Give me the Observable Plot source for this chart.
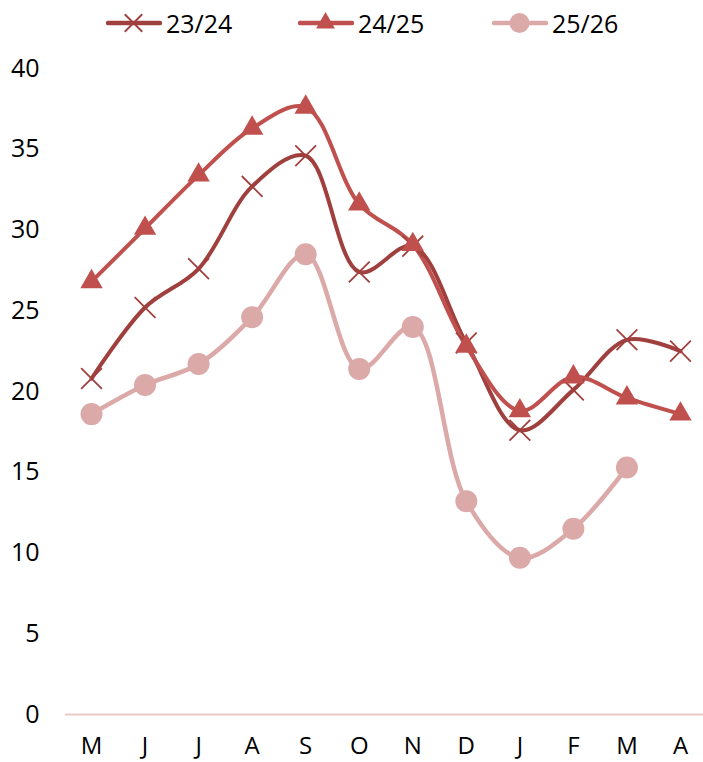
<!DOCTYPE html>
<html>
<head>
<meta charset="utf-8">
<script src="https://cdn.jsdelivr.net/npm/d3@7"></script>
<script src="https://cdn.jsdelivr.net/npm/@observablehq/plot@0.6"></script>
<style>
  html, body { margin: 0; padding: 0; background: #fff; }
  body { width: 703px; height: 762px; overflow: hidden; font-family: "Open Sans", sans-serif; }
  #legend { position: relative; height: 45px; }
  #legend .item { position: absolute; top: 8px; height: 30px; display: flex; align-items: center; font-size: 25px; line-height: 30px; color: #000; }
  #legend svg { display: block; margin-right: 4px; }
</style>
</head>
<body>
<div id="legend"></div>
<div id="chart"></div>
<script>
const months = ["M", "J", "J", "A", "S", "O", "N", "D", "J", "F", "M", "A"];
const seriesNames = ["23/24", "24/25", "25/26"];
const values2324 = [20.8, 25.2, 27.6, 32.7, 34.6, 27.4, 29.0, 23.0, 17.6, 20.1, 23.2, 22.5];
const values2425 = [26.8, 30.1, 33.4, 36.3, 37.6, 31.6, 29.1, 22.8, 18.8, 20.9, 19.6, 18.6];
const values2526 = [18.6, 20.4, 21.7, 24.6, 28.5, 21.4, 24.0, 13.2, 9.7, 11.5, 15.3, null];
const yTicks = [0, 5, 10, 15, 20, 25, 30, 35, 40];
const colors = ["#a0403e", "#c0504d", "#dba9a8"];
const symbols = ["times", "triangle", "circle"];

const allSeries = [values2324, values2425, values2526];
const data = [];
allSeries.forEach((vals, s) => {
  vals.forEach((v, i) => {
    if (v != null) data.push({series: seriesNames[s], i, month: months[i], value: v});
  });
});

const marks = [
  Plot.axisX({ticks: d3.range(months.length), tickFormat: i => months[i], tickSize: 0, tickPadding: 22, fontSize: 24, label: null}),
  Plot.axisY({ticks: yTicks, tickSize: 0, tickPadding: 26, fontSize: 25, label: null}),
  Plot.ruleY([0], {stroke: "#eccaca", strokeWidth: 2})
];
seriesNames.forEach((name, s) => {
  const d = data.filter(r => r.series === name);
  marks.push(Plot.line(d, {x: "i", y: "value", stroke: colors[s], strokeWidth: s === 2 ? 4.5 : 4, curve: "catmull-rom"}));
});
seriesNames.forEach((name, s) => {
  const d = data.filter(r => r.series === name);
  if (symbols[s] === "times") {
    marks.push(Plot.dot(d, {x: "i", y: "value", symbol: "times", r: 9.5, stroke: colors[s], strokeWidth: 1.8, fill: "none"}));
  } else if (symbols[s] === "triangle") {
    marks.push(Plot.dot(d, {x: "i", y: "value", symbol: "triangle", r: 8.3, fill: colors[s], stroke: "none"}));
  } else {
    marks.push(Plot.dot(d, {x: "i", y: "value", symbol: "circle", r: 11, fill: colors[s], stroke: "none"}));
  }
});

const chart = Plot.plot({
  width: 703,
  height: 717,
  marginLeft: 65,
  marginRight: 0,
  marginTop: 23,
  marginBottom: 48,
  style: {fontFamily: "Open Sans, sans-serif", fontSize: "25px", color: "#000", background: "#fff", overflow: "visible"},
  x: {type: "linear", domain: [-0.486, 11.43]},
  y: {domain: [0, 40]},
  marks
});
document.getElementById("chart").appendChild(chart);

// Legend
const legend = document.getElementById("legend");
const legendX = [106, 298, 492];
const legendSize = {times: Math.PI * 8 * 8, triangle: Math.PI * 7 * 7, circle: Math.PI * 10 * 10};
seriesNames.forEach((name, s) => {
  const item = document.createElement("div");
  item.className = "item";
  item.style.left = legendX[s] + "px";
  const svg = d3.create("svg").attr("width", 56).attr("height", 30);
  svg.append("line").attr("x1", 2).attr("x2", 54).attr("y1", 15).attr("y2", 15)
    .attr("stroke", colors[s]).attr("stroke-width", 4.5).attr("stroke-linecap", "round");
  const sym = symbols[s] === "times" ? d3.symbolTimes : symbols[s] === "triangle" ? d3.symbolTriangle : d3.symbolCircle;
  const p = svg.append("path").attr("transform", "translate(27.5,15)").attr("d", d3.symbol(sym, legendSize[symbols[s]])());
  if (symbols[s] === "times") p.attr("stroke", colors[s]).attr("stroke-width", 1.8).attr("fill", "none");
  else p.attr("fill", colors[s]);
  item.appendChild(svg.node());
  const t = document.createElement("span");
  t.textContent = name;
  item.appendChild(t);
  legend.appendChild(item);
});
</script>
</body>
</html>
